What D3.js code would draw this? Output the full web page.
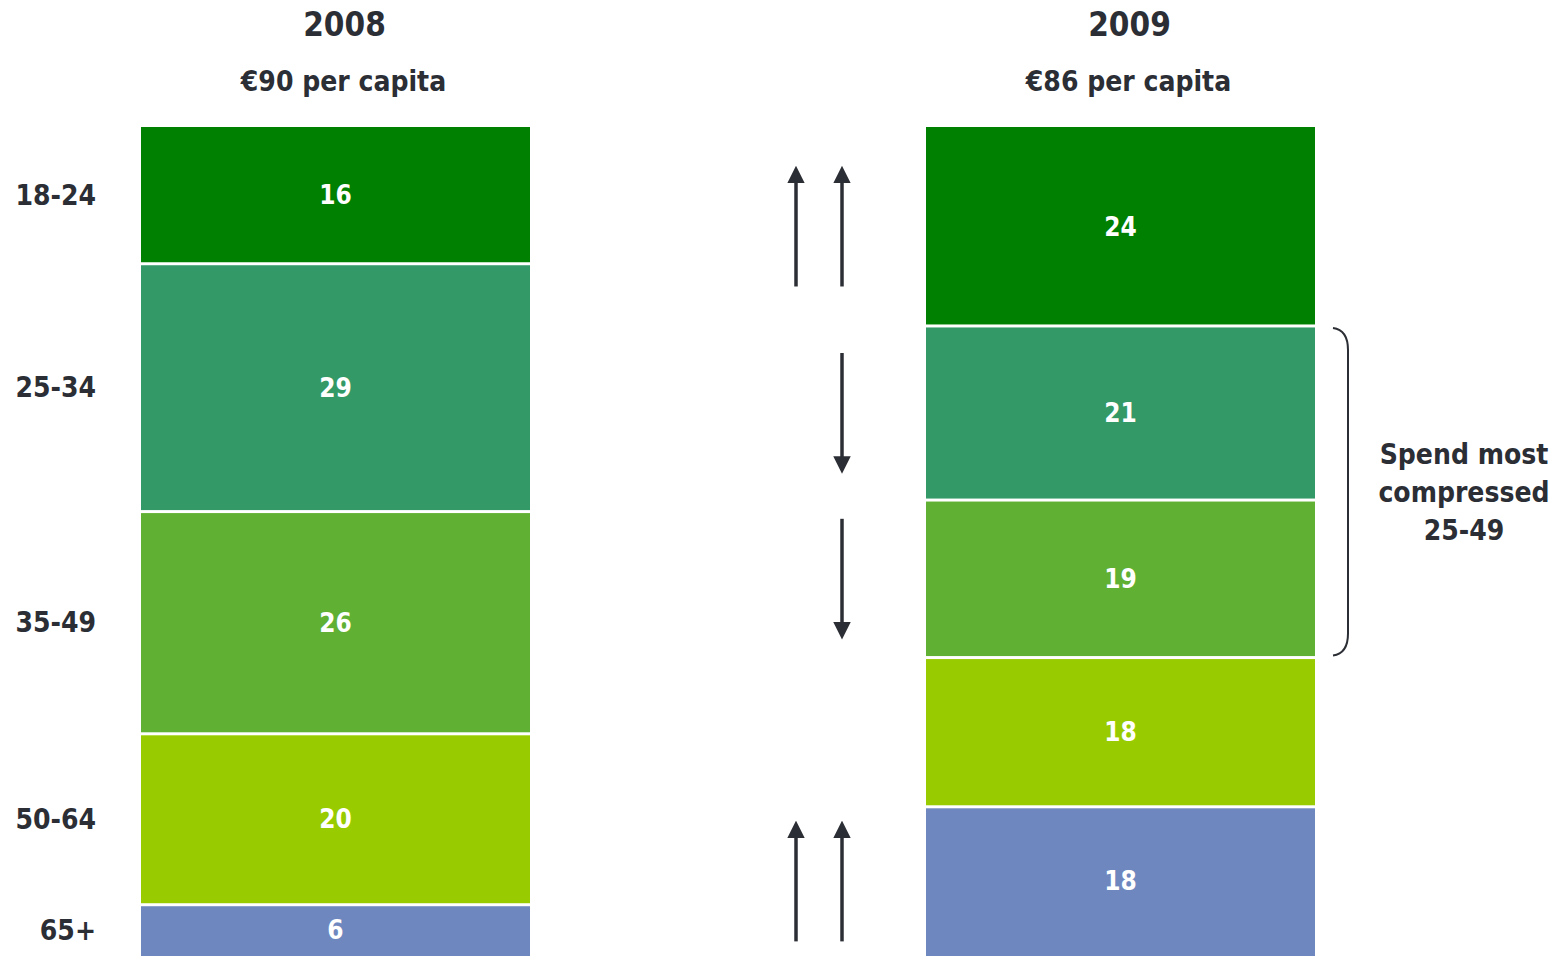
<!DOCTYPE html>
<html>
<head>
<meta charset="utf-8">
<script src="https://cdn.jsdelivr.net/npm/d3@7"></script>
<style>
  body { margin: 0; background: #fff; }
  text { font-family: "DejaVu Sans Condensed", "DejaVu Sans", sans-serif; font-stretch: condensed; font-weight: bold; }
</style>
</head>
<body>
<svg id="chart" width="1566" height="956"></svg>
<script>
// data
let years = ['2008', '2009']
let perCapita = ['€90 per capita', '€86 per capita']
let ageGroups = ['18-24', '25-34', '35-49', '50-64', '65+']
let values2008 = [16, 29, 26, 20, 6]
let values2009 = [24, 21, 19, 18, 18]
let colors = ['#008000', '#339966', '#60b033', '#99cc00', '#6e88bf']
// change arrows per age group: direction and how many
let changeDir = ['up', 'down', 'down', 'none', 'up']
let changeCount = [2, 1, 1, 0, 2]
let bracketGroups = ['25-34', '35-49']
let bracketText = ['Spend most', 'compressed', '25-49']

let barTop = 127, barBottom = 956,
    barWidth = 389,
    ink = '#2b2e34'

let svg = d3.select('#chart')

let x = d3.scalePoint()
  .domain(years)
  .range([335.5, 1120.5])

let series = [values2008, values2009]

// each bar is normalised to the full height
let yScales = series.map(vals => d3.scaleLinear()
  .domain([0, d3.sum(vals)])
  .range([barTop, barBottom]))

let stacks = series.map(vals => {
  let acc = 0
  return vals.map((v, i) => {
    let s = {group: ageGroups[i], value: v, y0: acc, y1: acc + v, color: colors[i]}
    acc += v
    return s
  })
})

years.forEach((yr, j) => {
  let y = yScales[j], total = d3.sum(series[j])
  let g = svg.append('g')

  g.selectAll('rect')
    .data(stacks[j])
    .join('rect')
    .attr('x', x(yr) - barWidth / 2)
    .attr('width', barWidth)
    .attr('y', d => y(d.y0) + (d.y0 > 0 ? 1.5 : 0))
    .attr('height', d => y(d.y1) - y(d.y0) - (d.y0 > 0 ? 1.5 : 0) - (d.y1 < total ? 1.5 : 0))
    .attr('fill', d => d.color)

  g.selectAll('text.val')
    .data(stacks[j])
    .join('text')
    .attr('class', 'val')
    .attr('x', x(yr))
    .attr('y', d => y((d.y0 + d.y1) / 2))
    .attr('dy', '0.35em')
    .attr('text-anchor', 'middle')
    .attr('fill', '#fff')
    .attr('font-size', 26)
    .text(d => d.value)

  // titles
  svg.append('text')
    .attr('x', x(yr) + 9)
    .attr('y', 36)
    .attr('text-anchor', 'middle')
    .attr('fill', ink)
    .attr('font-size', 33)
    .text(yr)

  svg.append('text')
    .attr('x', x(yr) + 8)
    .attr('y', 91)
    .attr('text-anchor', 'middle')
    .attr('fill', ink)
    .attr('font-size', 28)
    .text(perCapita[j])
})

// age group labels, next to the 2008 bar
svg.selectAll('text.age')
  .data(stacks[0])
  .join('text')
  .attr('class', 'age')
  .attr('x', 96)
  .attr('y', d => yScales[0]((d.y0 + d.y1) / 2))
  .attr('dy', '0.35em')
  .attr('text-anchor', 'end')
  .attr('fill', ink)
  .attr('font-size', 28)
  .text(d => d.group)

// arrows between the bars, centred on the 2009 segments
let defs = svg.append('defs')
defs.append('marker')
  .attr('id', 'head')
  .attr('viewBox', '0 0 10 10')
  .attr('refX', 5).attr('refY', 5)
  .attr('markerWidth', 5).attr('markerHeight', 5)
  .attr('orient', 'auto')
  .append('path')
  .attr('d', 'M0,0 L10,5 L0,10 Z')
  .attr('fill', ink)

let arrowLen = 120, arrowX = [842, 796]
stacks[1].forEach((d, i) => {
  let mid = yScales[1]((d.y0 + d.y1) / 2)
  for (let k = 0; k < changeCount[i]; k++) {
    let yA = changeDir[i] === 'up' ? mid + arrowLen / 2 : mid - arrowLen / 2
    let yB = changeDir[i] === 'up' ? mid - arrowLen / 2 + 8 : mid + arrowLen / 2 - 8
    svg.append('line')
      .attr('x1', arrowX[k]).attr('x2', arrowX[k])
      .attr('y1', yA).attr('y2', yB)
      .attr('stroke', ink)
      .attr('stroke-width', 3.5)
      .attr('marker-end', 'url(#head)')
  }
})

// bracket on the right of the 2009 bar
let bSegs = stacks[1].filter(d => bracketGroups.includes(d.group))
let bTop = yScales[1](d3.min(bSegs, d => d.y0)) + 2,
    bBot = yScales[1](d3.max(bSegs, d => d.y1)) - 2,
    bx = x('2009') + barWidth / 2 + 18
svg.append('path')
  .attr('d', `M${bx},${bTop} Q${bx + 15},${bTop + 2} ${bx + 15},${bTop + 22} L${bx + 15},${bBot - 22} Q${bx + 15},${bBot - 2} ${bx},${bBot}`)
  .attr('fill', 'none')
  .attr('stroke', ink)
  .attr('stroke-width', 2)

let bMid = (bTop + bBot) / 2
svg.append('text')
  .attr('x', 1464)
  .attr('y', bMid - 38)
  .attr('text-anchor', 'middle')
  .attr('fill', ink)
  .attr('font-size', 28)
  .selectAll('tspan')
  .data(bracketText)
  .join('tspan')
  .attr('x', 1464)
  .attr('dy', (d, i) => i === 0 ? '0.35em' : '1.36em')
  .text(d => d)
</script>
</body>
</html>
